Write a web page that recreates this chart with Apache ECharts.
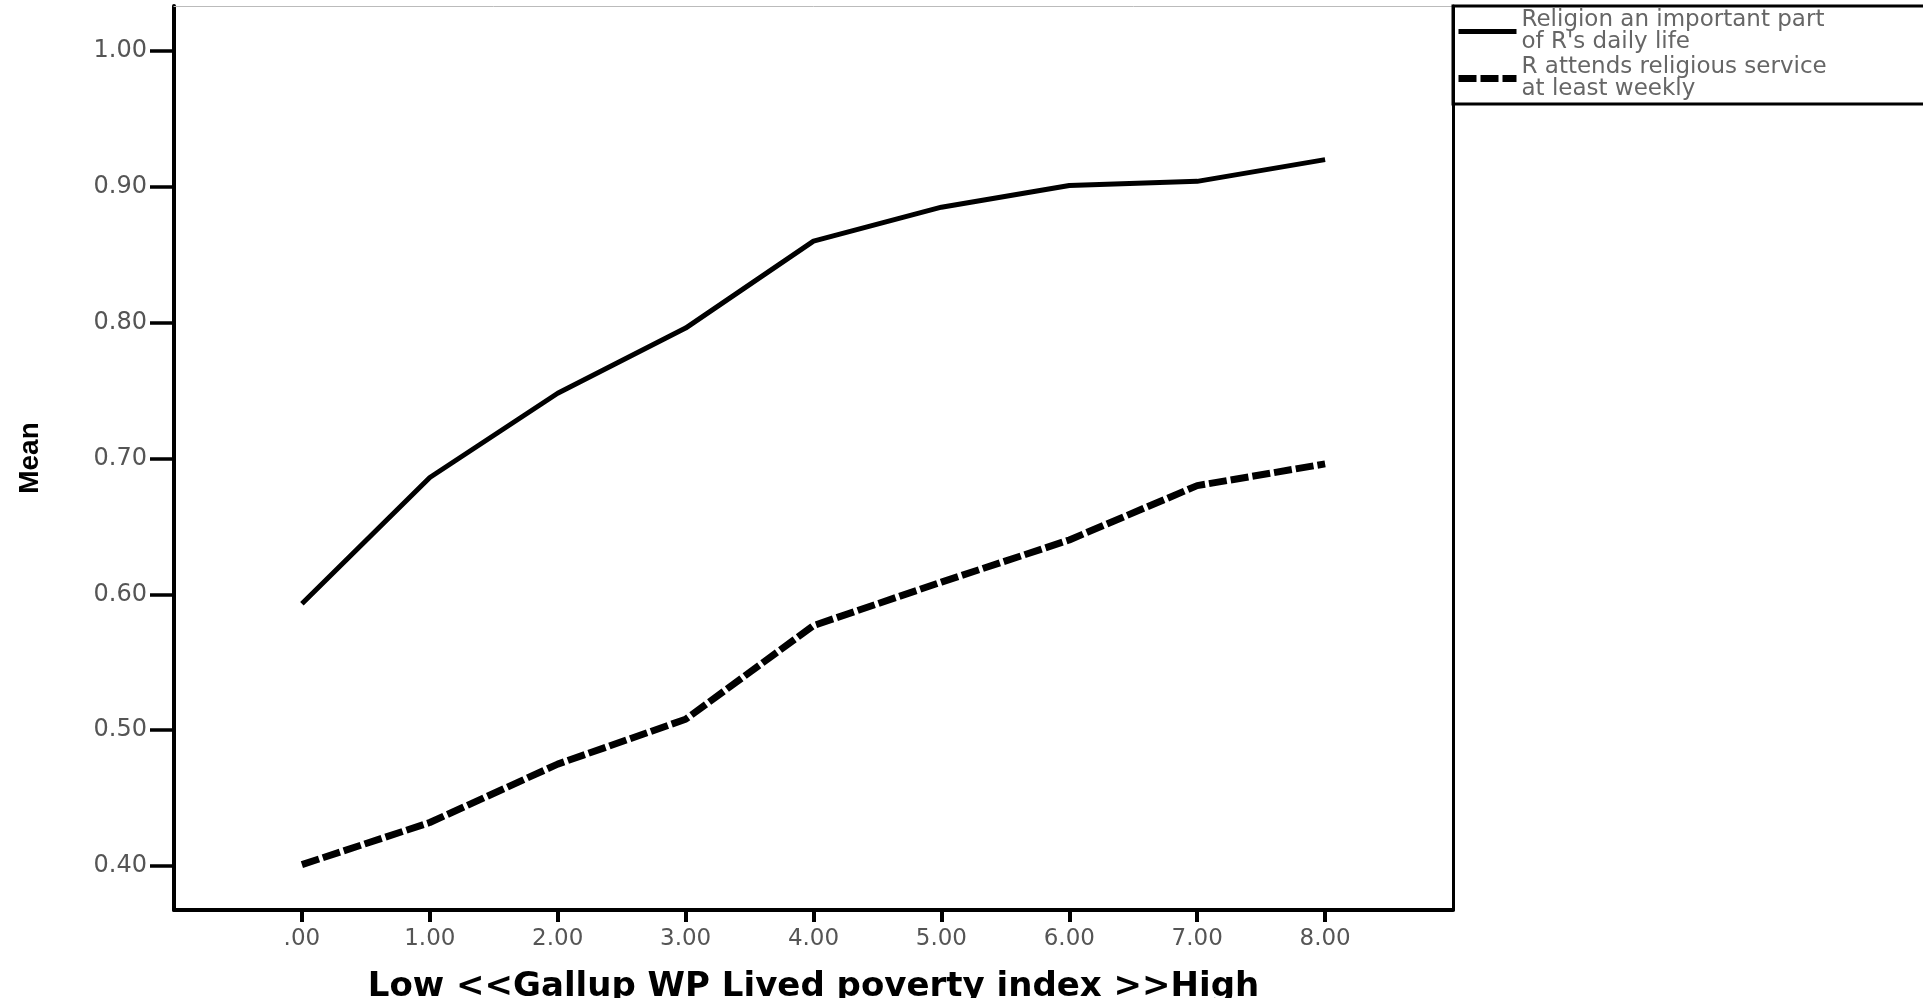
<!DOCTYPE html>
<html>
<head>
<meta charset="utf-8">
<script src="https://cdn.jsdelivr.net/npm/echarts@6/dist/echarts.min.js"></script>
<style>
  html, body { margin: 0; padding: 0; background: #fff; }
  #chart { width: 1923px; height: 998px; }
</style>
</head>
<body>
<div id="chart"></div>
<script>
// poverty index categories 0..8
const povertyIndex = [0, 1, 2, 3, 4, 5, 6, 7, 8]
// Religion an important part of R's daily life
const religionImportant = [0.593, 0.686, 0.748, 0.796, 0.860, 0.885, 0.901, 0.904, 0.920]
// R attends religious service at least weekly
const attendsWeekly = [0.401, 0.432, 0.475, 0.508, 0.577, 0.609, 0.640, 0.680, 0.696]
const yTicks = [0.4, 0.5, 0.6, 0.7, 0.8, 0.9, 1.0]

const labelFont = 'DejaVu Sans'
const nameReligion = "Religion an important part\nof R's daily life"
const nameAttends = 'R attends religious service\nat least weekly'

const chart = echarts.init(document.getElementById('chart'))

chart.setOption({
  animation: false,
  grid: {
    left: 174,
    right: 470,
    top: 6,
    bottom: 88,
    outerBoundsMode: 'none'
  },
  legend: {
    orient: 'vertical',
    left: 1453,
    top: 6,
    padding: [3, 200, 3, 2],
    borderColor: '#000',
    borderWidth: 3,
    itemWidth: 58,
    itemHeight: 14,
    itemGap: 2,
    itemStyle: { opacity: 0 },
    textStyle: {
      fontFamily: labelFont,
      fontSize: 23,
      lineHeight: 22,
      color: '#666'
    },
    data: [
      { name: nameReligion, lineStyle: { color: '#000', width: 5 } },
      { name: nameAttends, lineStyle: { color: '#000', width: 7, type: [18, 4] } }
    ]
  },
  xAxis: [{
    type: 'value',
    min: -1,
    max: 9,
    name: 'Low <<Gallup WP Lived poverty index >>High',
    nameLocation: 'middle',
    nameGap: 60,
    nameTextStyle: {
      fontFamily: labelFont,
      fontWeight: 'bold',
      fontSize: 34,
      color: '#000'
    },
    splitLine: { show: false },
    axisLine: { onZero: false, lineStyle: { color: '#000', width: 4 } },
    axisTick: {
      customValues: povertyIndex,
      length: 12,
      lineStyle: { color: '#000', width: 4 }
    },
    axisLabel: {
      customValues: povertyIndex,
      margin: 18,
      fontFamily: labelFont,
      fontSize: 23,
      color: '#555',
      formatter: v => (v === 0 ? '.00' : v.toFixed(2))
    }
  }, {
    type: 'value',
    position: 'top',
    min: -1,
    max: 9,
    splitLine: { show: false },
    axisLine: { onZero: false, lineStyle: { color: '#bbb', width: 1 } },
    axisTick: { show: false },
    axisLabel: { show: false }
  }],
  yAxis: [{
    type: 'value',
    min: 0.3676,
    max: 1.0331,
    name: 'Mean',
    nameLocation: 'middle',
    nameRotate: 90,
    nameGap: 130,
    nameTextStyle: {
      fontFamily: 'Liberation Sans',
      fontWeight: 'bold',
      fontSize: 28,
      color: '#000'
    },
    splitLine: { show: false },
    axisLine: { onZero: false, lineStyle: { color: '#000', width: 4 } },
    axisTick: {
      customValues: yTicks,
      length: 24,
      lineStyle: { color: '#000', width: 3.5 }
    },
    axisLabel: {
      customValues: yTicks,
      margin: 27,
      fontFamily: labelFont,
      fontSize: 24,
      color: '#555',
      formatter: v => v.toFixed(2)
    }
  }, {
    type: 'value',
    position: 'right',
    min: 0.3676,
    max: 1.0331,
    splitLine: { show: false },
    axisLine: { show: true, onZero: false, lineStyle: { color: '#000', width: 3 } },
    axisTick: { show: false },
    axisLabel: { show: false }
  }],
  series: [{
    name: nameReligion,
    type: 'line',
    symbol: 'none',
    lineStyle: { color: '#000', width: 5 },
    itemStyle: { color: '#000' },
    data: povertyIndex.map((x, i) => [x, religionImportant[i]])
  }, {
    name: nameAttends,
    type: 'line',
    symbol: 'none',
    lineStyle: { color: '#000', width: 7, type: [18, 4] },
    itemStyle: { color: '#000' },
    data: povertyIndex.map((x, i) => [x, attendsWeekly[i]])
  }]
})
</script>
</body>
</html>
